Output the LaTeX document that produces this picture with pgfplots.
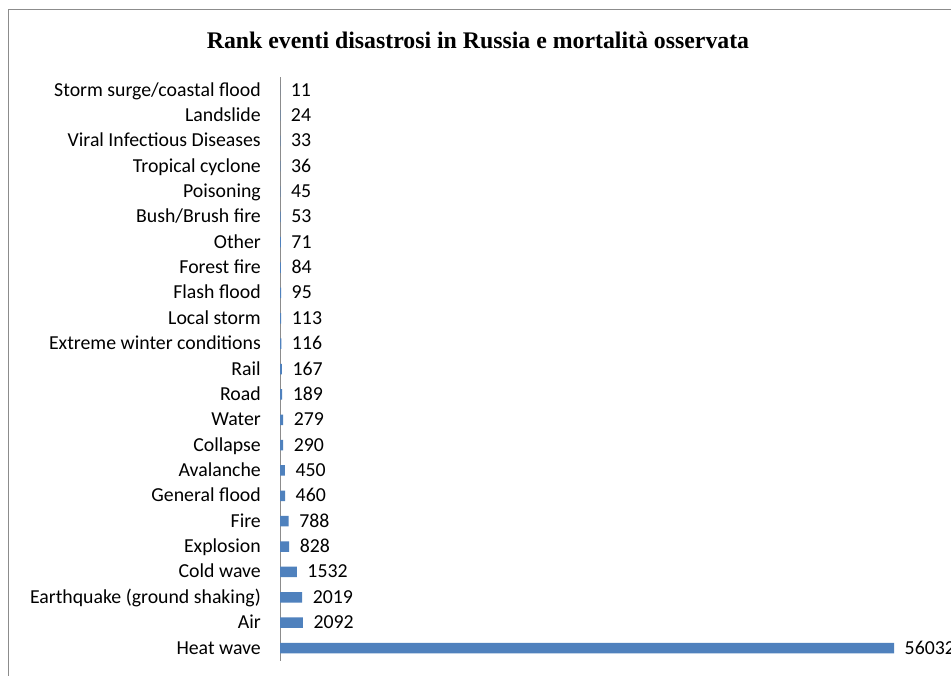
\documentclass[border=0pt]{standalone}
\usepackage{pgfplots}
\pgfplotsset{compat=1.18}
\usepackage{fontspec}
\setmainfont{Carlito}
\newfontfamily\titlefont{Liberation Serif}
\definecolor{barblue}{HTML}{4F81BD}
\definecolor{framegray}{HTML}{8C8C8C}
\begin{document}
\begin{tikzpicture}
\useasboundingbox (0pt,0pt) rectangle (951pt,676pt);
\clip (0pt,0pt) rectangle (951pt,676pt);
\fill[white] (0pt,0pt) rectangle (951pt,676pt);
\draw[framegray, line width=1.5pt] (8.5pt,-5pt) -- (8.5pt,666.5pt) -- (960pt,666.5pt);
\node[font=\titlefont\bfseries\fontsize{23.8}{28}\selectfont] at (478pt,636pt) {Rank eventi disastrosi in Russia e mortalità osservata};
\begin{axis}[
  at={(280pt,15.3pt)}, anchor=south west,
  scale only axis,
  width=657.5pt, height=583.3pt,
  xmin=0, xmax=60000,
  ymin=-0.5, ymax=22.5,
  axis x line=none,
  axis y line*=left,
  y axis line style={framegray, line width=1pt, -},
  xbar, bar width=10.5pt,
  ytick={0,...,22},
  yticklabels={Heat wave, Air, Earthquake (ground shaking), Cold wave, Explosion, Fire, General flood, Avalanche, Collapse, Water, Road, Rail, Extreme winter conditions, Local storm, Flash flood, Forest fire, Other, Bush/Brush fire, Poisoning, Tropical cyclone, Viral Infectious Diseases, Landslide, Storm surge/coastal flood},
  major tick length=0pt,
  yticklabel style={font=\fontsize{19.8}{23}\selectfont, anchor=east, inner sep=0pt, text height=16pt, text depth=4pt, xshift=-19pt},
  nodes near coords,
  nodes near coords style={font=\fontsize{19.8}{23}\selectfont, anchor=west, inner sep=0pt, text height=16pt, text depth=4pt, xshift=10.5pt, black},
  /pgf/number format/assume math mode=true,
  /pgf/number format/fixed, /pgf/number format/precision=0, /pgf/number format/1000 sep={},
  clip=false,
]
\addplot[fill=barblue, draw=none] coordinates {
(56032,0) (2092,1) (2019,2) (1532,3) (828,4) (788,5) (460,6) (450,7) (290,8) (279,9) (189,10) (167,11) (116,12) (113,13) (95,14) (84,15) (71,16) (53,17) (45,18) (36,19) (33,20) (24,21) (11,22)
};
\end{axis}
\end{tikzpicture}
\end{document}
